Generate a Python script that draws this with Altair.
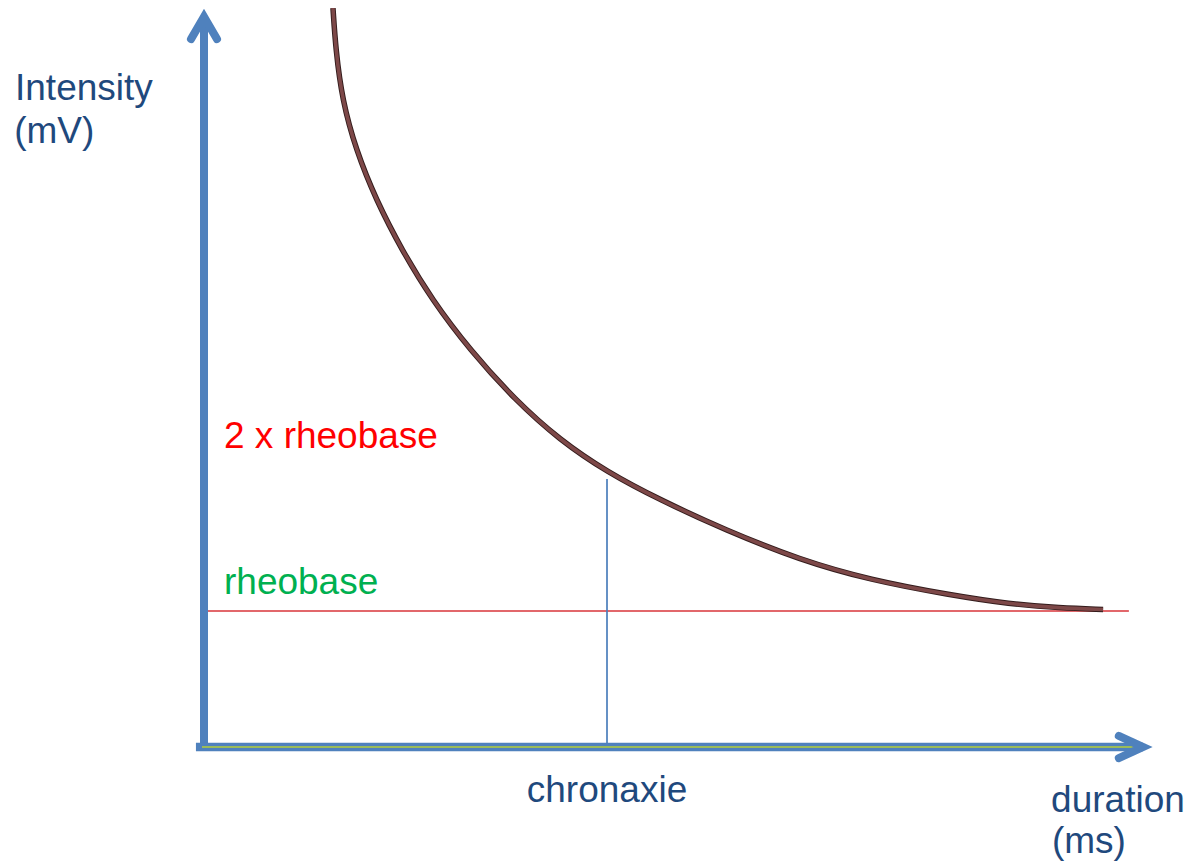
import altair as alt
import pandas as pd

# Strength–duration curve (duration in chronaxie units, intensity in rheobase units)
curve_duration = [0.320, 0.327, 0.343, 0.377, 0.427, 0.491, 0.566, 0.660, 0.772, 0.883,
                  1.000, 1.132, 1.293, 1.479, 1.653, 1.851, 2.000, 2.124, 2.231]
curve_intensity = [5.434, 5.125, 4.757, 4.390, 4.022, 3.654, 3.287, 2.919, 2.551, 2.257,
                   2.022, 1.816, 1.596, 1.375, 1.228, 1.118, 1.051, 1.022, 1.011]

rheobase = 1.0
chronaxie = 1.0
chronaxie_top = 1.97
rheobase_line_span = [-0.01, 2.295]

# axes (arrows)
y_axis_span = [-0.03, 5.37]
x_axis_span = [-0.02, 2.330]
x_axis_inner_span = [-0.005, 2.311]
y_arrow_duration = [-0.0323, 0.0, 0.0323]
y_arrow_intensity = [5.205, 5.37, 5.205]
x_arrow_duration = [2.270, 2.330, 2.270]
x_arrow_intensity = [0.081, 0.0, -0.081]

label_text = ["Intensity", "(mV)", "2 x rheobase", "rheobase", "chronaxie", "duration", "(ms)"]
label_duration = [-0.469, -0.471, 0.0496, 0.0496, 1.0, 2.102, 2.104]
label_intensity = [4.757, 4.440, 2.195, 1.125, -0.405, -0.478, -0.780]
label_color = ["#1F497D", "#1F497D", "#FF0000", "#00B050", "#1F497D", "#1F497D", "#1F497D"]
label_align = ["left", "left", "left", "left", "center", "left", "left"]

xs = alt.Scale(domain=[0, 1], range=[196, 599], nice=False, zero=False)
ys = alt.Scale(domain=[0, 1], range=[739, 603], nice=False, zero=False)

def X(f):
    return alt.X(f"{f}:Q", scale=xs, axis=None)

def Y(f):
    return alt.Y(f"{f}:Q", scale=ys, axis=None)

curve_df = pd.DataFrame({"duration": curve_duration, "intensity": curve_intensity})
curve_outer = alt.Chart(curve_df).mark_line(
    color="#331c1c", strokeWidth=5.5, interpolate="basis", strokeCap="butt"
).encode(x=X("duration"), y=Y("intensity"))
curve_inner = alt.Chart(curve_df).mark_line(
    color="#7d4848", strokeWidth=3.6, interpolate="basis", strokeCap="butt"
).encode(x=X("duration"), y=Y("intensity"))

rheo_df = pd.DataFrame({"intensity": [rheobase], "d1": [rheobase_line_span[0]], "d2": [rheobase_line_span[1]]})
rheo_line = alt.Chart(rheo_df).mark_rule(color="#D8343A", strokeWidth=1.5).encode(
    y=Y("intensity"), x=X("d1"), x2="d2")

chron_df = pd.DataFrame({"duration": [chronaxie], "i1": [0.0], "i2": [chronaxie_top]})
chron_line = alt.Chart(chron_df).mark_rule(color="#4A7EBB", strokeWidth=1.7).encode(
    x=X("duration"), y=Y("i1"), y2="i2")

yax_df = pd.DataFrame({"duration": [0.0], "i1": [y_axis_span[0]], "i2": [y_axis_span[1]]})
y_shaft = alt.Chart(yax_df).mark_rule(color="#4F81BD", strokeWidth=8).encode(
    x=X("duration"), y=Y("i1"), y2="i2")

xax_df = pd.DataFrame({"intensity": [0.0], "d1": [x_axis_span[0]], "d2": [x_axis_span[1]]})
x_shaft = alt.Chart(xax_df).mark_rule(color="#4F81BD", strokeWidth=8.5).encode(
    y=Y("intensity"), x=X("d1"), x2="d2")

xin_df = pd.DataFrame({"intensity": [0.0], "d1": [x_axis_inner_span[0]], "d2": [x_axis_inner_span[1]]})
x_inner = alt.Chart(xin_df).mark_rule(color="#9BBB59", strokeWidth=2).encode(
    y=Y("intensity"), x=X("d1"), x2="d2")

ya_df = pd.DataFrame({"duration": y_arrow_duration, "intensity": y_arrow_intensity, "k": [0, 1, 2]})
y_head = alt.Chart(ya_df).mark_line(color="#4F81BD", strokeWidth=8, strokeCap="round", strokeJoin="miter").encode(
    x=X("duration"), y=Y("intensity"), order="k:Q")

xa_df = pd.DataFrame({"duration": x_arrow_duration, "intensity": x_arrow_intensity, "k": [0, 1, 2]})
x_head = alt.Chart(xa_df).mark_line(color="#4F81BD", strokeWidth=8, strokeCap="round", strokeJoin="miter").encode(
    x=X("duration"), y=Y("intensity"), order="k:Q")

lab_df = pd.DataFrame({"text": label_text, "duration": label_duration, "intensity": label_intensity,
                       "color": label_color, "align": label_align})
labels_left = alt.Chart(lab_df[lab_df["align"] == "left"]).mark_text(
    font="Liberation Sans", fontSize=37, align="left", baseline="alphabetic"
).encode(x=X("duration"), y=Y("intensity"), text="text:N", color=alt.Color("color:N", scale=None))
labels_center = alt.Chart(lab_df[lab_df["align"] == "center"]).mark_text(
    font="Liberation Sans", fontSize=37, align="center", baseline="alphabetic"
).encode(x=X("duration"), y=Y("intensity"), text="text:N", color=alt.Color("color:N", scale=None))

chart = alt.layer(
    rheo_line, chron_line, y_shaft, x_shaft, x_inner, y_head, x_head,
    curve_outer, curve_inner, labels_left, labels_center
).properties(
    width=1176, height=854, padding=0, autosize=alt.AutoSizeParams(type="none")
).configure_view(stroke=None)

chart.save("out.html", embed_options={"renderer": "svg", "actions": False})
